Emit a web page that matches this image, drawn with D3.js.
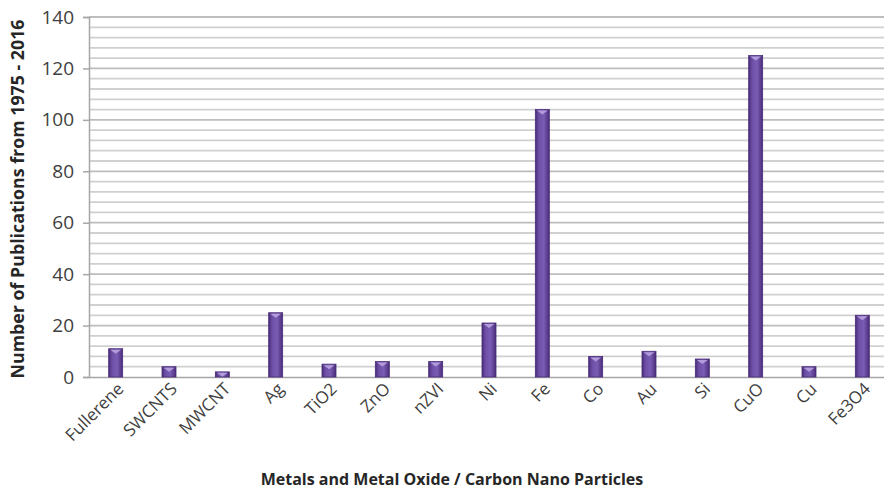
<!DOCTYPE html>
<html><head><meta charset="utf-8">
<script src="https://cdn.jsdelivr.net/npm/d3@7"></script>
<style>body{margin:0;background:#fff}svg{display:block}</style>
</head><body><svg id="c" width="884" height="489"></svg>
<script>
const categories = ["Fullerene","SWCNTS","MWCNT","Ag","TiO2","ZnO","nZVI","Ni","Fe","Co","Au","Si","CuO","Cu","Fe3O4"];
const values = [11,4,2,25,5,6,6,21,104,8,10,7,125,4,24];
const yTicks = [0,20,40,60,80,100,120,140];
const yTitle = "Number of Publications from 1975 - 2016";
const xTitle = "Metals and Metal Oxide / Carbon Nano Particles";

const svg = d3.select("#c");
const m = {l:89, t:17, r:889, b:377};
const x = d3.scaleBand().domain(categories).range([m.l, m.r]).paddingInner(0).paddingOuter(0);
const y = d3.scaleLinear().domain([0,140]).range([m.b, m.t]);
const font = "'Open Sans', Lato, sans-serif";

const defs = svg.append("defs");
const g = defs.append("linearGradient").attr("id","bg").attr("x1","0").attr("x2","1").attr("y1","0").attr("y2","0");
g.append("stop").attr("offset","0").attr("stop-color","#4a2c78");
g.append("stop").attr("offset","0.25").attr("stop-color","#6d4fa6");
g.append("stop").attr("offset","0.6").attr("stop-color","#7a5cb4");
g.append("stop").attr("offset","1").attr("stop-color","#4a2c78");

// gridlines every 4
const grid = d3.range(4, 141, 4);
svg.append("g").selectAll("line").data(grid).join("line")
  .attr("x1", m.l).attr("x2", 884).attr("y1", d=>y(d)).attr("y2", d=>y(d))
  .attr("stroke", d => d%20===0 ? "#bdbdbd" : "#d0d0d0").attr("stroke-width", 1.8);

// axes
const ya = svg.append("g").attr("transform",`translate(${m.l},0)`)
  .call(d3.axisLeft(y).tickValues(yTicks).tickSize(6).tickPadding(9));
ya.select(".domain").attr("stroke","#a6a6a6").attr("stroke-width",1.5);
ya.selectAll(".tick line").attr("stroke","#a6a6a6").attr("stroke-width",1.5);
ya.selectAll("text").attr("font-family",font).attr("font-size",19).attr("fill","#404040");

const xa = svg.append("g").attr("transform",`translate(0,${m.b})`)
  .call(d3.axisBottom(x).tickSize(0).tickPadding(0));
xa.select(".domain").attr("stroke","#a6a6a6").attr("stroke-width",1.5);
xa.selectAll(".tick text").attr("font-family",font).attr("font-size",17).attr("fill","#404040")
  .attr("text-anchor","end").attr("dy",0)
  .attr("transform","translate(9,13) rotate(-45)");

// bars
const bw = 14;
const bars = svg.append("g").selectAll("g").data(categories).join("g");
bars.append("rect")
  .attr("x", d => x(d) + x.bandwidth()/2 - bw/2)
  .attr("y", (d,i) => y(values[i]))
  .attr("width", bw)
  .attr("height", (d,i) => y(0) - y(values[i]))
  .attr("fill","url(#bg)").attr("stroke","#4a2c78").attr("stroke-width",0.8);
bars.append("path")
  .attr("d", (d,i) => {
    const cx = x(d) + x.bandwidth()/2, ty = y(values[i]);
    return `M${cx-bw/2+1.5},${ty+1}L${cx+bw/2-1.5},${ty+1}L${cx},${ty+5}Z`;
  })
  .attr("fill","#b9a3e0").attr("opacity",0.9);

// titles
svg.append("text").attr("transform",`translate(24,199) rotate(-90)`)
  .attr("text-anchor","middle").attr("font-family",font).attr("font-weight","bold")
  .attr("font-size",17.8).attr("fill","#262626").text(yTitle);
svg.append("text").attr("x",452).attr("y",485)
  .attr("text-anchor","middle").attr("font-family",font).attr("font-weight","bold")
  .attr("font-size",16).attr("fill","#262626").text(xTitle);
</script></body></html>
